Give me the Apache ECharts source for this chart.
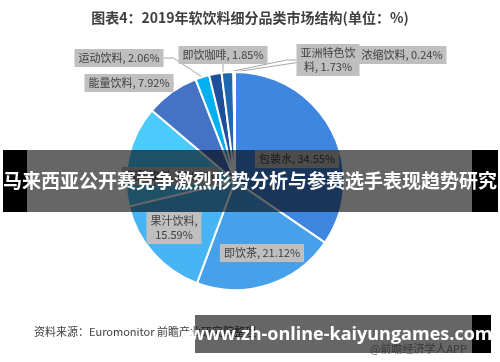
<!DOCTYPE html>
<html><head><meta charset="utf-8">
<script src="https://cdn.jsdelivr.net/npm/echarts@6/dist/echarts.min.js"></script>
<style>html,body{margin:0;padding:0;background:#fff}#c{width:500px;height:362px}</style>
</head><body><div id="c"></div>
<script>
var categories = ['包装水','即饮茶','果汁饮料','碳酸饮料','能量饮料','运动饮料','即饮咖啡','亚洲特色饮料','浓缩饮料'];
var values = [34.55, 21.12, 15.59, 14.94, 7.92, 2.06, 1.85, 1.73, 0.24];
var labelTexts = ['包装水, 34.55%','即饮茶, 21.12%','果汁饮料,\n15.59%','碳酸饮料, 14.94%','能量饮料, 7.92%','运动饮料, 2.06%','即饮咖啡, 1.85%','亚洲特色饮\n料, 1.73%','浓缩饮料, 0.24%'];
var titleText = '图表4：2019年软饮料细分品类市场结构(单位：%)';
var sourceText = '资料来源：Euromonitor 前瞻产业研究院整理';
var watermarkText = '@前瞻经济学人APP';
var bannerText = '马来西亚公开赛竞争激烈形势分析与参赛选手表现趋势研究';
var urlText = 'www.zh-online-kaiyungames.com';

var colors = ['#3f86e0','#47a1ea','#47b4f4','#4bcbfc','#4472c4','#00b0f0','#1f4e9a','#1e68b0','#7fb0e8'];
var labelPos = [[297,159],[262,253],[174,228],[170,176],[129,83],[119,58],[223,55],[328,60],[402,55]];
var insideIdx = {0:1,1:1,2:1,3:1};

var chart = echarts.init(document.getElementById('c'), null, {renderer:'canvas'});
var data = categories.map(function(n,i){
  return {name:n, value:values[i], itemStyle:{color:colors[i]},
    labelLine:{show: !insideIdx[i]}};
});
chart.setOption({
  animation:false,
  title:{text:titleText,left:'center',top:6,textStyle:{fontSize:14,fontWeight:'bold',color:'#404040',fontFamily:'Noto Sans CJK SC'}},
  series:[{
    type:'pie', center:[235,181], radius:[0,109], startAngle:90, clockwise:true,
    itemStyle:{borderColor:'#fff',borderWidth:2},
    data:data,
    label:{show:true, position:'outside', formatter:function(p){return labelTexts[p.dataIndex];},
      backgroundColor:'#bfbfbf', color:'#404040', fontSize:11, lineHeight:14, padding:[2,4], align:'center',
      fontFamily:'Noto Sans CJK SC'},
    labelLine:{lineStyle:{color:'#a6a6a6',width:1}, length:10, length2:10},
    labelLayout:function(p){
      var q = labelPos[p.dataIndex];
      return {x:q[0], y:q[1], align:'center', verticalAlign:'middle'};
    }
  }],
  graphic:[
    {type:'text', left:34, top:326, style:{text:sourceText, fontSize:11, fill:'#404040', fontFamily:'Noto Sans CJK SC'}},
    {type:'text', left:370, top:343, style:{text:watermarkText, fontSize:11, fill:'#8a8a8a', fontFamily:'Noto Sans CJK SC'}},
    {type:'rect', shape:{x:3,y:150,width:24,height:62}, style:{fill:'#000'}, z:100},
    {type:'rect', shape:{x:472,y:150,width:26,height:62}, style:{fill:'#000'}, z:100},
    {type:'rect', shape:{x:27,y:150,width:445,height:62}, style:{fill:'rgba(0,0,0,0.6)'}, z:100},
    {type:'text', x:250, y:181, style:{text:bannerText, fontSize:19, fontWeight:'bold', fill:'#fff', align:'center', verticalAlign:'middle', fontFamily:'Noto Sans CJK SC'}, z:101},
    {type:'rect', shape:{x:195,y:315,width:277,height:38}, style:{fill:'rgba(0,0,0,0.6)'}, z:100},
    {type:'rect', shape:{x:472,y:315,width:19,height:38}, style:{fill:'#000'}, z:100},
    {type:'text', x:341, y:335, style:{text:urlText, fontSize:18, fontWeight:'bold', fill:'#fff', align:'center', verticalAlign:'middle', fontFamily:'Open Sans'}, z:101}
  ]
});
</script></body></html>
